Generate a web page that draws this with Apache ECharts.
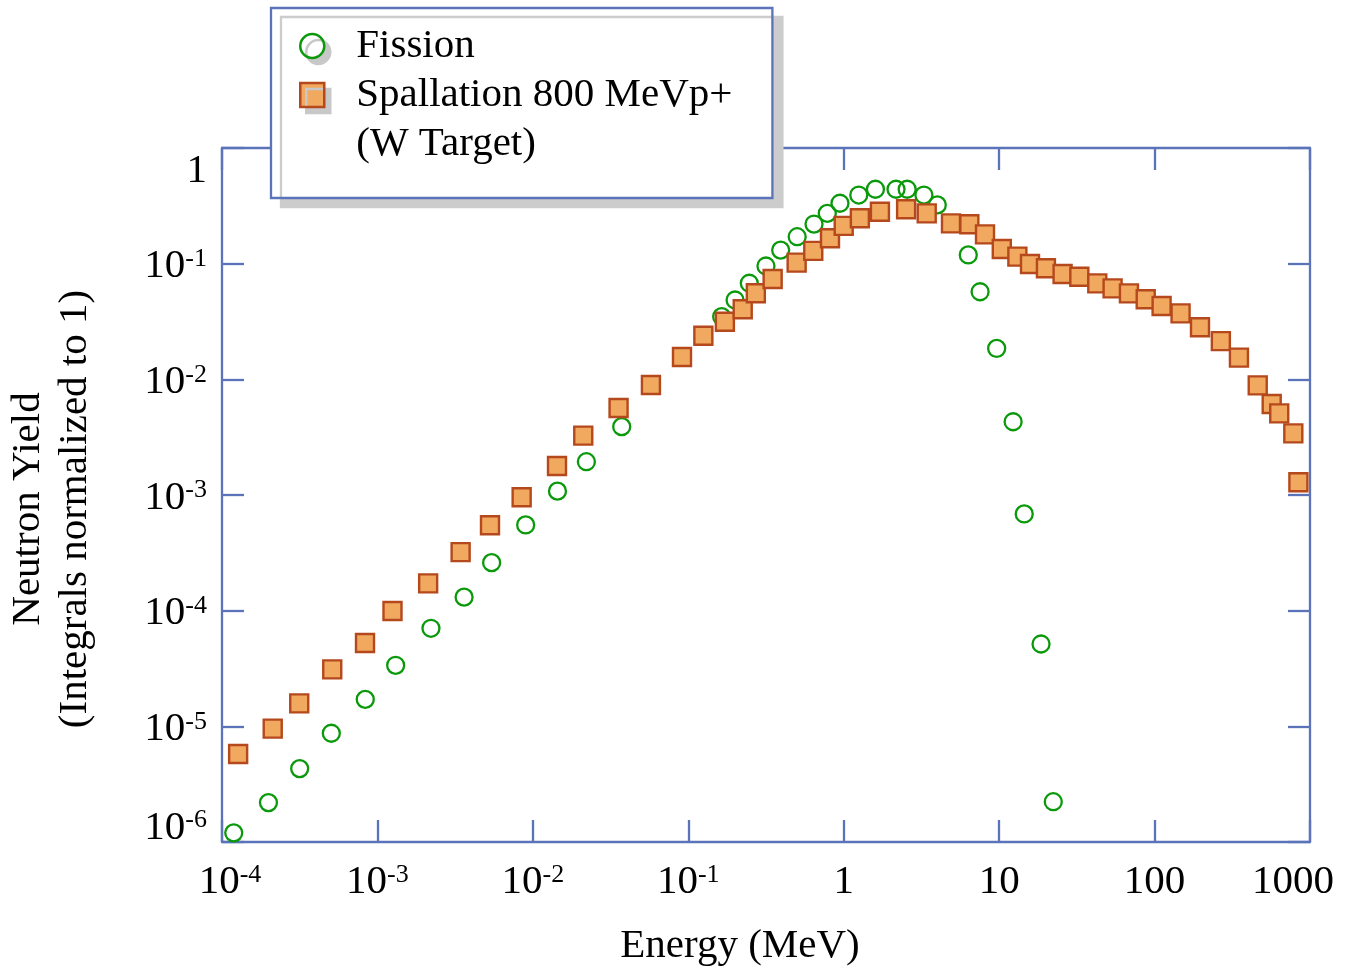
<!DOCTYPE html>
<html>
<head>
<meta charset="utf-8">
<script src="https://cdn.jsdelivr.net/npm/echarts@6/dist/echarts.min.js"></script>
<style>
  html, body { margin: 0; padding: 0; background: #ffffff; }
  #chart { width: 1349px; height: 975px; }
</style>
</head>
<body>
<div id="chart"></div>
<script>
// ---- Data ----
const fissionEnergy = [1.19e-4, 1.99e-4, 3.16e-4, 5.05e-4, 8.35e-4, 1.31e-3, 2.21e-3, 3.61e-3, 5.43e-3, 8.99e-3,
  1.44e-2, 2.21e-2, 3.73e-2, 0.164, 0.200, 0.247, 0.316, 0.393, 0.502, 0.644, 0.784, 0.946, 1.25, 1.60, 2.17,
  2.56, 3.28, 4.00, 6.33, 7.54, 9.64, 12.3, 14.5, 18.6, 22.3];
const fissionYield = [1.20e-6, 2.19e-6, 4.31e-6, 8.71e-6, 1.71e-5, 3.37e-5, 7.04e-5, 1.31e-4, 2.60e-4, 5.51e-4,
  1.08e-3, 1.94e-3, 3.90e-3, 3.48e-2, 4.85e-2, 6.77e-2, 9.55e-2, 0.131, 0.171, 0.220, 0.272, 0.333, 0.392, 0.440, 0.440,
  0.440, 0.392, 0.322, 0.119, 5.72e-2, 1.85e-2, 4.30e-3, 6.86e-4, 5.15e-5, 2.23e-6];

const spallEnergy = [1.27e-4, 2.12e-4, 3.14e-4, 5.12e-4, 8.32e-4, 1.25e-3, 2.12e-3, 3.43e-3, 5.30e-3, 8.47e-3,
  1.43e-2, 2.11e-2, 3.56e-2, 5.75e-2, 9.11e-2, 0.125, 0.172, 0.224, 0.272, 0.349, 0.498, 0.637, 0.816, 1.00, 1.27,
  1.71, 2.52, 3.42, 4.90, 6.43, 8.11, 10.4, 13.1, 15.8, 20.0, 25.6, 32.8, 42.8, 53.7, 68.4,
  87.7, 111, 147, 196, 267, 349, 461, 567, 634, 781, 842];
const spallYield = [5.77e-6, 9.55e-6, 1.58e-5, 3.11e-5, 5.26e-5, 9.94e-5, 1.72e-4, 3.21e-4, 5.47e-4, 9.55e-4,
  1.78e-3, 3.26e-3, 5.65e-3, 8.93e-3, 1.56e-2, 2.38e-2, 3.15e-2, 4.03e-2, 5.55e-2, 7.37e-2, 0.102, 0.129, 0.166, 0.212, 0.247,
  0.281, 0.295, 0.272, 0.223, 0.219, 0.179, 0.134, 0.115, 9.94e-2, 9.12e-2, 8.15e-2, 7.71e-2, 6.76e-2, 6.12e-2, 5.54e-2,
  4.92e-2, 4.31e-2, 3.72e-2, 2.82e-2, 2.14e-2, 1.54e-2, 8.87e-3, 6.12e-3, 5.08e-3, 3.41e-3, 1.29e-3];

const seriesNames = ['Fission', 'Spallation 800 MeVp+\n(W Target)'];
const xTickExps = [-4, -3, -2, -1, 0, 1, 2, 3];
const xTickLabels = ['10^-4', '10^-3', '10^-2', '10^-1', '1', '10', '100', '1000'];
const yTickExps = [-6, -5, -4, -3, -2, -1, 0];
const yTickLabels = ['10^-6', '10^-5', '10^-4', '10^-3', '10^-2', '10^-1', '1'];
const xTitle = 'Energy (MeV)';
const yTitle = 'Neutron Yield\n(Integrals normalized to 1)';

// ---- Styling ----
const FONT = 'Liberation Serif';
const AXIS = '#5b73b8';
const GREEN = '#0a990a';
const ORANGE = '#f0a95e';
const ORANGE_EDGE = '#b5481c';

function zip(a, b) { return a.map((v, i) => [v, b[i]]); }

function richLabel(txt, baseStyle) {
  const p = txt.split('^');
  if (p.length === 2) return '{' + baseStyle + '|' + p[0] + '}{s|' + p[1] + '}';
  return '{' + baseStyle + '|' + txt + '}';
}

const richStyles = {
  b: { fontFamily: FONT, fontSize: 41, lineHeight: 41, color: '#000' },
  bL: { fontFamily: FONT, fontSize: 41, lineHeight: 41, color: '#000', padding: [0, 0, 0, 16] },
  bR: { fontFamily: FONT, fontSize: 41, lineHeight: 41, color: '#000', padding: [0, 34, 0, 0] },
  s: { fontFamily: FONT, fontSize: 26, lineHeight: 28, verticalAlign: 'top', color: '#000' },
  g1: { fontSize: 10, lineHeight: 46 },
  g2: { fontSize: 10, lineHeight: 28 },
  g3: { fontSize: 6, lineHeight: 6 }
};

const chart = echarts.init(document.getElementById('chart'), null, { renderer: 'canvas' });

const axisCommon = {
  type: 'log',
  logBase: 10,
  axisLine: { show: true, lineStyle: { color: AXIS, width: 2.3 } },
  axisTick: { show: true, inside: true, length: 22, lineStyle: { color: AXIS, width: 2.3 } },
  minorTick: { show: false },
  splitLine: { show: false }
};

chart.setOption({
  animation: false,
  backgroundColor: '#ffffff',
  grid: { left: 222, right: 39, top: 148, bottom: 133, containLabel: false, outerBoundsMode: 'none' },
  xAxis: [
    Object.assign({}, axisCommon, {
      position: 'bottom', min: 1e-4, max: 1000, splitNumber: 7,
      name: xTitle, nameLocation: 'middle', nameGap: 84,
      nameTextStyle: { fontFamily: FONT, fontSize: 41, lineHeight: 41, color: '#000', padding: [0, 52, 0, 0] },
      axisLabel: {
        show: true, margin: 20, showMinLabel: true, showMaxLabel: true,
        formatter: function (v) {
          const e = Math.round(Math.log10(v));
          const i = xTickExps.indexOf(e);
          if (i < 0) return '';
          const style = e === -4 ? 'bL' : (e === 3 ? 'bR' : 'b');
          return richLabel(xTickLabels[i], style);
        },
        rich: richStyles
      }
    }),
    Object.assign({}, axisCommon, {
      position: 'top', min: 1e-4, max: 1000, splitNumber: 7,
      axisLabel: { show: false }
    })
  ],
  yAxis: [
    Object.assign({}, axisCommon, {
      position: 'left', min: 1e-6, max: 1, splitNumber: 6,
      name: yTitle, nameLocation: 'middle', nameGap: 123, nameRotate: 90,
      nameTextStyle: { fontFamily: FONT, fontSize: 41, lineHeight: 47, color: '#000', padding: [0, 28, 0, 0] },
      axisLabel: {
        show: true, margin: 15, showMinLabel: true, showMaxLabel: true,
        formatter: function (v) {
          const e = Math.round(Math.log10(v));
          const i = yTickExps.indexOf(e);
          if (i < 0) return '';
          const t = richLabel(yTickLabels[i], 'b');
          if (e === 0) return '{g1| }\n' + t;
          if (e === -6) return t + '\n{g2| }';
          return '{g3| }\n' + t;
        },
        rich: richStyles
      }
    }),
    Object.assign({}, axisCommon, {
      position: 'right', min: 1e-6, max: 1, splitNumber: 6,
      axisLabel: { show: false }
    })
  ],
  legend: {
    orient: 'vertical',
    left: 271, top: 8,
    padding: [13.5, 40, 29.5, 28],
    itemGap: -49,
    itemWidth: 24, itemHeight: 24,
    backgroundColor: '#ffffff',
    borderColor: AXIS, borderWidth: 2.3, borderRadius: 0,
    shadowColor: '#cccccc', shadowBlur: 0, shadowOffsetX: 10, shadowOffsetY: 9,
    selectedMode: false,
    itemStyle: { shadowColor: '#c8c8c8', shadowBlur: 0, shadowOffsetX: 6, shadowOffsetY: 6 },
    formatter: function (name) {
      const lines = name.split('\n').map(function (l) { return '{t|' + l + '}'; });
      if (lines.length > 1) return '{sp| }\n' + lines.join('\n');
      return lines[0];
    },
    textStyle: {
      fontFamily: FONT, fontSize: 41, lineHeight: 49, color: '#000', padding: [0, 0, 0, 27],
      rich: {
        t: { fontFamily: FONT, fontSize: 41, lineHeight: 49, color: '#000' },
        sp: { fontSize: 10, lineHeight: 49 }
      }
    },
    data: [
      { name: seriesNames[0], icon: 'circle',
        itemStyle: { color: '#ffffff', borderColor: GREEN, borderWidth: 2.5, shadowColor: '#c8c8c8', shadowBlur: 0, shadowOffsetX: 6, shadowOffsetY: 6 } },
      { name: seriesNames[1], icon: 'rect',
        itemStyle: { color: ORANGE, borderColor: ORANGE_EDGE, borderWidth: 2.5, shadowColor: '#c8c8c8', shadowBlur: 0, shadowOffsetX: 6, shadowOffsetY: 6 } }
    ]
  },
  series: [
    {
      name: seriesNames[0], type: 'scatter', xAxisIndex: 0, yAxisIndex: 0,
      symbol: 'circle', symbolSize: 17,
      itemStyle: { color: 'rgba(255,255,255,0)', borderColor: GREEN, borderWidth: 2.3, opacity: 1 },
      data: zip(fissionEnergy, fissionYield), z: 2
    },
    {
      name: seriesNames[1], type: 'scatter', xAxisIndex: 0, yAxisIndex: 0,
      symbol: 'rect', symbolSize: 18,
      itemStyle: { color: ORANGE, borderColor: ORANGE_EDGE, borderWidth: 2.4, opacity: 1 },
      data: zip(spallEnergy, spallYield), z: 3
    }
  ]
});
</script>
</body>
</html>
